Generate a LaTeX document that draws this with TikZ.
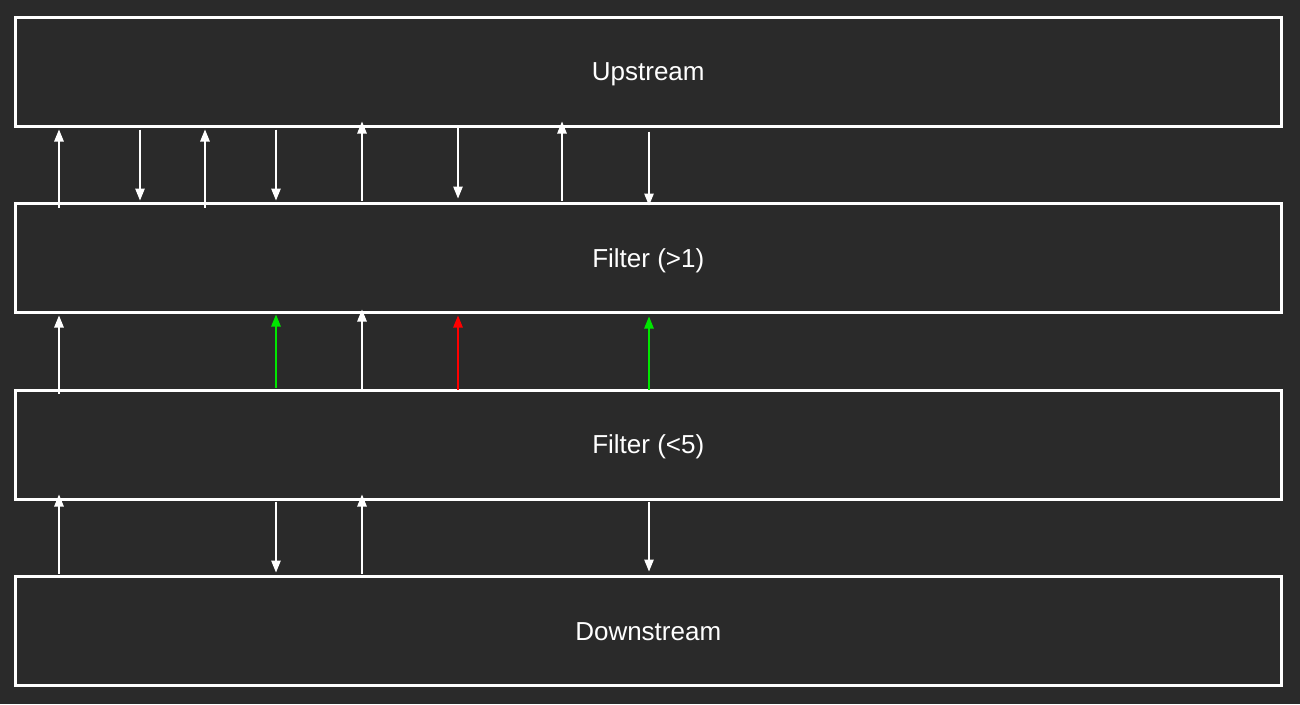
\documentclass[tikz,border=0pt]{standalone}
\usepackage{fontspec}
\setmainfont{Liberation Sans}
\usepackage{xcolor}
\usepackage{tikz}
\usetikzlibrary{arrows.meta, positioning}

\definecolor{bgdark}{HTML}{2A2A2A}
\definecolor{passgreen}{RGB}{0,230,0}
\definecolor{dropred}{RGB}{255,0,0}

\begin{document}
\begin{tikzpicture}[
    x=1pt, y=-1pt,
    layer/.style={rectangle, draw=white, line width=3pt, minimum width=1265.5pt, minimum height=109pt, inner sep=0pt, text height=18.6pt, text depth=0pt, align=center, text=white, font=\fontsize{26}{30}\selectfont},
    flow/.style={-{Triangle[length=12pt, width=9.5pt]}, line width=1.2pt}
]

% Background
\fill[bgdark] (0,0) rectangle (1300,704);
\useasboundingbox (0,0) rectangle (1300,704);

% Stages
\node[layer] (up) at (648.25, 71.5) {Upstream};
\node[layer] (fone) at (648.25, 258) {Filter (>1)};
\node[layer] (ftwo) at (648.25, 444.5) {Filter (<5)};
\node[layer] (down) at (648.25, 631) {Downstream};

% Upstream <-> Filter (>1)
\foreach \x/\a/\b/\s/\t in {59/fone.north/up.south/-5.5/2, 140/up.south/fone.north/2/1.5,
    205/fone.north/up.south/-5.5/2, 276/up.south/fone.north/2/1.5,
    362/fone.north/up.south/1.5/-6, 458/up.south/fone.north/-2/3.5,
    562/fone.north/up.south/1.5/-6, 649/up.south/fone.north/4/-3.5}
  \draw[flow, white, shorten <=\s pt, shorten >=\t pt] (\x,0 |- \a) -- (\x,0 |- \b);

% Filter (<5) -> Filter (>1)
\foreach \x/\col/\s/\t in {59/white/-5/1.5, 276/passgreen/1/0.5, 362/white/-3/-4.5,
    458/dropred/-1/1.5, 649/passgreen/-1/2.5}
  \draw[flow, \col, shorten <=\s pt, shorten >=\t pt] (\x,0 |- ftwo.north) -- (\x,0 |- fone.south);

% Filter (<5) <-> Downstream
\foreach \x/\a/\b/\s/\t in {59/down.north/ftwo.south/1.5/-6, 276/ftwo.south/down.north/1/2.5,
    362/down.north/ftwo.south/1.5/-6, 649/ftwo.south/down.north/1/3.5}
  \draw[flow, white, shorten <=\s pt, shorten >=\t pt] (\x,0 |- \a) -- (\x,0 |- \b);

\end{tikzpicture}
\end{document}
